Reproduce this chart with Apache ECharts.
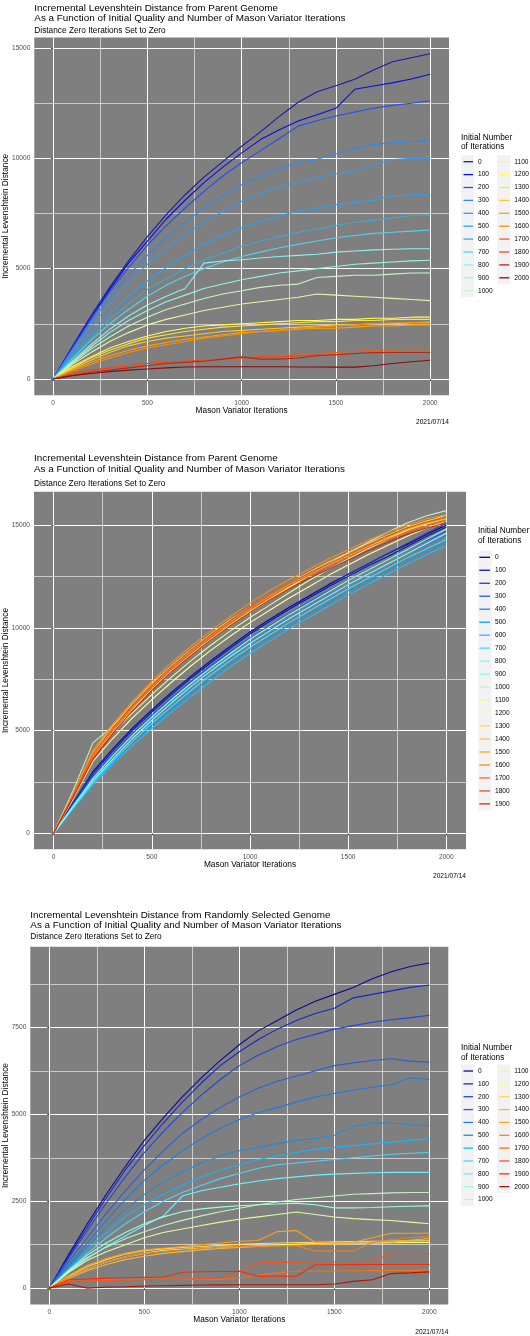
<!DOCTYPE html>
<html><head><meta charset="utf-8">
<script src="https://cdn.jsdelivr.net/npm/echarts@6/dist/echarts.min.js"></script>
<style>html,body{margin:0;padding:0;background:#fff}#c{width:530px;height:1336px}</style>
</head><body><div id="c"></div>
<script>
// ---------- shared axis data ----------
const iterations = [0,100,200,300,400,500,600,700,800,900,1000,1100,1200,1300,1400,1500,1600,1700,1800,1900,2000];
const xTicks = [0,500,1000,1500,2000];
const xMinor = [250,750,1250,1750];
const yTicksAB = [0,5000,10000,15000];
const yMinorAB = [2500,7500,12500];
const yTicksC = [0,2500,5000,7500];
const yMinorC = [1250,3750,6250,8750];

// ---------- panel A: distance from parent genome ----------
const levelsA = ['0','100','200','300','400','500','600','700','800','900','1000','1100','1200','1300','1400','1500','1600','1700','1800','1900','2000'];
const colorsA = ['#1919A8','#0A0AEB','#1E50F5','#3088F5','#3C96F0','#1EA5FF','#3CAAD2','#50D2F0','#8CF2F2','#96F5DC','#C8F5C8','#E2F8A6','#FFFF46','#FFDC50','#FFC828','#FFA000','#FF8C00','#E6641E','#F04614','#B4281E','#8B0A0A'];
const A0    = [0,1450,2850,4150,5350,6450,7450,8350,9150,9850,10550,11200,11900,12540,13020,13290,13590,14000,14380,14560,14740];
const A100  = [0,1400,2750,4050,5250,6250,7250,8100,8900,9600,10250,10850,11300,11690,11980,12270,13130,13280,13420,13600,13810];
const A200  = [0,1380,2700,3950,5050,6050,6950,7750,8500,9200,9800,10350,10900,11460,11700,11920,12100,12270,12400,12500,12610];
const A300  = [0,1300,2550,3700,4700,5600,6400,7100,7750,8300,8800,9200,9550,9800,9955,10195,10450,10635,10700,10760,10830];
const A400  = [0,1200,2350,3400,4350,5200,5900,6550,7100,7600,8050,8400,8700,8950,9150,9300,9400,9700,9950,10000,10000];
const A500  = [0,1050,2050,2950,3750,4450,5050,5600,6100,6500,6850,7150,7400,7600,7750,7900,8000,8100,8300,8350,8350];
const A600  = [0,950,1850,2700,3400,4050,4550,5000,5400,5700,6000,6250,6450,6650,6800,6950,7100,7200,7300,7400,7450];
const A700  = [0,900,1750,2500,3150,3750,4250,4650,5000,5300,5550,5750,5950,6100,6250,6400,6500,6600,6650,6700,6750];
const A800  = [0,800,1550,2250,2850,3350,3750,4100,5250,5350,5400,5480,5550,5600,5650,5750,5800,5850,5880,5900,5900];
const A900  = [0,750,1450,2100,2650,3100,3500,3800,4100,4300,4500,4650,4800,4900,5000,5100,5200,5250,5300,5350,5380];
const A1000 = [0,700,1350,1900,2400,2800,3150,3400,3650,3850,4000,4150,4250,4300,4600,4650,4700,4700,4750,4800,4800];
const A1100 = [0,650,1200,1700,2100,2450,2700,2900,3100,3250,3400,3500,3600,3700,3850,3800,3750,3700,3650,3600,3550];
const A1200 = [0,550,1000,1400,1700,1950,2150,2300,2400,2450,2500,2550,2600,2650,2650,2700,2700,2750,2750,2800,2800];
const A1300 = [0,500,950,1300,1600,1850,2000,2150,2250,2350,2400,2450,2500,2550,2600,2600,2650,2650,2700,2700,2700];
const A1400 = [0,450,850,1200,1500,1700,1850,1950,2050,2150,2200,2250,2300,2350,2400,2450,2450,2500,2500,2550,2550];
const A1500 = [0,400,750,1050,1300,1500,1650,1800,1900,2000,2100,2150,2200,2250,2300,2300,2350,2400,2400,2450,2450];
const A1600 = [0,350,650,950,1200,1400,1550,1700,1850,1950,2050,2150,2200,2300,2350,2400,2450,2500,2550,2550,2600];
const A1700 = [0,200,350,500,600,700,750,800,850,900,950,1000,1050,1100,1150,1200,1250,1300,1300,1350,1350];
const A1800 = [0,250,400,500,600,700,750,800,850,900,950,1000,1000,1050,1100,1100,1150,1150,1200,1200,1200];
const A1900 = [0,150,300,400,500,600,700,750,800,900,1000,900,900,950,1050,1100,1150,1200,1200,1200,1200];
const A2000 = [0,150,250,330,400,450,500,540,550,550,550,550,550,540,540,535,535,600,700,780,850];
const seriesA = [A0,A100,A200,A300,A400,A500,A600,A700,A800,A900,A1000,A1100,A1200,A1300,A1400,A1500,A1600,A1700,A1800,A1900,A2000];

// ---------- panel B: distance from parent genome (second set) ----------
const levelsB = ['0','100','200','300','400','500','600','700','800','900','1000','1100','1200','1300','1400','1500','1600','1700','1800','1900'];
const colorsB = ['#000080','#0A14B4','#1E3CC8','#1E5AE6','#1E82FF','#00A0FF','#1EBEFF','#3CDCFF','#7DFAFF','#82FFE1','#BEF5BE','#DCFF96','#FFFFA0','#FFDC46','#FFC350','#FFAA00','#FF8C14','#FF6414','#E6501E','#D22814'];
const B0    = [0,1500,3000,4100,5100,6000,6850,7650,8400,9100,9800,10400,11000,11550,12100,12600,13100,13600,14050,14550,15000];
const B100  = [0,1450,2900,4000,5000,5900,6750,7550,8300,9000,9700,10300,10900,11450,12000,12500,13000,13450,13950,14450,14900];
const B200  = [0,1500,2950,4050,5050,5950,6800,7600,8350,9050,9750,10350,10950,11500,12050,12600,13100,13600,14100,14600,15100];
const B300  = [0,1400,2800,3850,4850,5750,6600,7400,8150,8850,9500,10100,10700,11250,11800,12300,12800,13300,13800,14250,14700];
const B400  = [0,1350,2650,3700,4650,5550,6400,7200,7950,8650,9300,9900,10500,11050,11600,12100,12600,13100,13600,14050,14500];
const B500  = [0,1250,2450,3450,4400,5250,6050,6850,7600,8300,8950,9550,10150,10700,11250,11800,12300,12800,13300,13750,14200];
const B600  = [0,1200,2350,3350,4250,5100,5900,6650,7400,8100,8750,9350,9950,10500,11050,11600,12100,12600,13100,13550,14000];
const B700  = [0,1250,2450,3500,4450,5350,6150,6950,7700,8400,9050,9650,10250,10800,11350,11900,12400,12900,13400,13850,14300];
const B800  = [0,1300,2550,3600,4600,5500,6350,7150,7900,8600,9250,9850,10450,11000,11550,12100,12600,13100,13600,14100,14600];
const B900  = [0,1350,2650,3750,4750,5650,6500,7300,8050,8750,9450,10050,10650,11200,11750,12300,12800,13300,13800,14300,14800];
const B1000 = [0,2100,4400,5200,6100,7000,7850,8650,9400,10100,10750,11350,11950,12550,13100,13650,14150,14650,15100,15450,15700];
const B1100 = [0,1900,3900,4900,5850,6750,7600,8400,9150,9850,10500,11100,11700,12300,12850,13350,13850,14300,14750,15150,15500];
const B1200 = [0,1700,3500,4600,5600,6500,7350,8150,8900,9600,10250,10850,11450,12000,12550,13050,13550,14000,14450,14850,15200];
const B1300 = [0,1800,3700,4900,6000,7000,7900,8700,9450,10150,10800,11400,12000,12550,13050,13500,13950,14350,14750,15050,15300];
const B1400 = [0,1900,3900,5200,6300,7300,8150,8950,9700,10400,11000,11600,12150,12700,13200,13650,14100,14500,14900,15200,15400];
const B1500 = [0,1850,3800,5050,6150,7150,8050,8850,9600,10300,10950,11550,12100,12600,13100,13550,14000,14400,14800,15100,15300];
const B1600 = [0,1950,4050,5300,6400,7400,8300,9100,9850,10550,11200,11800,12350,12850,13350,13800,14250,14650,15000,15300,15500];
const B1700 = [0,1800,3700,5000,6100,7100,8000,8800,9550,10250,10900,11500,12050,12550,13000,13450,13900,14300,14650,14950,15200];
const B1800 = [0,1850,3850,5100,6200,7200,8100,8900,9650,10350,11000,11600,12150,12650,13100,13550,14000,14450,14850,15150,15400];
const B1900 = [0,1750,3600,4850,5950,6950,7850,8650,9400,10100,10750,11350,11900,12400,12850,13300,13750,14150,14550,14850,15100];
const seriesB = [B0,B100,B200,B300,B400,B500,B600,B700,B800,B900,B1000,B1100,B1200,B1300,B1400,B1500,B1600,B1700,B1800,B1900];

// ---------- panel C: distance from randomly selected genome ----------
const levelsC = levelsA;
const colorsC = ['#0A0A96','#1428C8','#1E46DC','#2860DC','#1E7AE6','#1E8CDC','#14B4FF','#50D2FF','#6EF0FF','#96FFDC','#BEF5BE','#DCFF9C','#FFFF6E','#FFD750','#F5B43C','#FFA014','#E68228','#FF6E0A','#FF5014','#FF2800','#B41400'];
const C0    = [0,950,1850,2700,3500,4250,4900,5500,6050,6550,7000,7400,7700,8000,8250,8450,8650,8900,9100,9250,9353];
const C100  = [0,900,1750,2600,3400,4100,4750,5350,5900,6400,6800,7150,7450,7700,7900,8050,8350,8450,8550,8650,8720];
const C200  = [0,850,1650,2450,3200,3900,4500,5050,5550,6000,6400,6700,6950,7150,7300,7450,7550,7650,7720,7780,7850];
const C300  = [0,750,1450,2150,2800,3400,3950,4450,4850,5200,5500,5750,5950,6100,6250,6400,6480,6550,6600,6530,6500];
const C400  = [0,650,1300,1950,2550,3100,3550,3950,4300,4600,4850,5050,5200,5350,5500,5600,5700,5780,5850,6050,6000];
const C500  = [0,600,1200,1750,2250,2700,3050,3350,3600,3800,3950,4050,4150,4250,4300,4400,4650,4750,4750,4700,4680];
const C600  = [0,550,1100,1600,2050,2400,2700,2950,3200,3400,3550,3700,3800,3900,4000,4050,4100,4150,4200,4250,4300];
const C700  = [0,500,1000,1450,1850,2200,2500,2750,2950,3150,3300,3450,3550,3600,3650,3700,3750,3800,3850,3880,3900];
const C800  = [0,450,850,1200,1500,1800,2075,2650,2800,2900,3000,3080,3150,3200,3250,3280,3300,3320,3330,3330,3330];
const C900  = [0,500,950,1300,1600,1850,2050,2200,2280,2330,2370,2400,2420,2445,2400,2308,2310,2320,2340,2355,2367];
const C1000 = [0,480,880,1180,1420,1620,1800,1950,2080,2200,2300,2400,2480,2550,2600,2650,2700,2720,2740,2750,2750];
const C1100 = [0,450,800,1050,1250,1450,1600,1700,1800,1900,1980,2050,2120,2192,2120,2045,2000,1970,1948,1900,1851];
const C1200 = [0,300,550,750,900,1000,1080,1120,1150,1180,1200,1220,1240,1260,1280,1290,1300,1300,1310,1315,1315];
const C1300 = [0,330,620,820,980,1080,1130,1170,1200,1230,1260,1280,1300,1310,1320,1330,1340,1350,1355,1360,1364];
const C1400 = [0,280,500,680,820,920,1000,1050,1100,1140,1170,1200,1220,1240,1260,1270,1280,1300,1310,1380,1430];
const C1500 = [0,350,650,850,1000,1100,1150,1200,1250,1300,1350,1370,1627,1656,1315,1300,1320,1450,1578,1578,1578];
const C1600 = [0,300,550,750,900,1000,1060,1100,1140,1180,1200,1210,1220,1217,1071,1071,1071,1315,1400,1450,1490];
const C1700 = [0,220,240,250,255,263,260,255,250,250,300,380,440,487,490,495,500,505,510,512,516];
const C1800 = [0,195,210,220,235,243,255,265,275,290,487,730,740,750,755,760,770,779,993,993,993];
const C1900 = [0,243,260,290,300,310,320,458,470,480,487,341,341,341,672,675,678,680,680,682,682];
const C2000 = [0,120,0,30,40,60,70,80,90,95,100,100,100,100,100,120,195,243,419,440,467];
const seriesC = [C0,C100,C200,C300,C400,C500,C600,C700,C800,C900,C1000,C1100,C1200,C1300,C1400,C1500,C1600,C1700,C1800,C1900,C2000];

// ---------- build chart ----------
const FONT = '"Liberation Sans", Arial, sans-serif';
const grids = [
  {left:34.3, top:37.5, width:414.7, height:357.7, yMin:-737, yMax:15478, yT:yTicksAB, yM:yMinorAB, yGap:24.3},
  {left:34.0, top:491.7, width:432.0, height:357.6, yMin:-778, yMax:16620, yT:yTicksAB, yM:yMinorAB, yGap:24.0},
  {left:30.3, top:946.7, width:418.0, height:357.8, yMin:-470, yMax:9821, yT:yTicksC, yM:yMinorC, yGap:20.3}
];
const fmt = v => String(v);
const gridOpt = [], xAxes = [], yAxes = [];
grids.forEach((g, gi) => {
  gridOpt.push({left:g.left, top:g.top, width:g.width, height:g.height, show:true, backgroundColor:'#7F7F7F', borderWidth:0, containLabel:false, outerBoundsMode:'none'});
  xAxes.push({type:'value', gridIndex:gi, min:-100, max:2100, position:'bottom',
    axisLine:{show:false},
    axisTick:{show:true, length:2.2, lineStyle:{color:'#333', width:0.8}, customValues:xTicks},
    axisLabel:{customValues:xTicks, fontSize:6.6, color:'#4D4D4D', margin:4, formatter:fmt, fontFamily:FONT},
    splitLine:{show:true, lineStyle:{color:'#FFFFFF', width:1}},
    name:'Mason Variator Iterations', nameLocation:'middle', nameGap:11, nameMoveOverlap:false,
    nameTextStyle:{fontSize:8.3, color:'#000', lineHeight:9, fontFamily:FONT}});
  xAxes.push({type:'value', gridIndex:gi, min:-100, max:2100, position:'top',
    axisLine:{show:false}, axisTick:{show:false, customValues:xMinor}, axisLabel:{show:false, customValues:xMinor},
    splitLine:{show:true, lineStyle:{color:'#FFFFFF', width:0.6}}});
  yAxes.push({type:'value', gridIndex:gi, min:g.yMin, max:g.yMax, position:'left',
    axisLine:{show:false},
    axisTick:{show:true, length:2.2, lineStyle:{color:'#333', width:0.8}, customValues:g.yT},
    axisLabel:{customValues:g.yT, fontSize:6.6, color:'#4D4D4D', margin:4, formatter:fmt, fontFamily:FONT},
    splitLine:{show:true, lineStyle:{color:'#FFFFFF', width:1}},
    name:'Incremental Levenshtein Distance', nameLocation:'middle', nameGap:g.yGap, nameMoveOverlap:false,
    nameTextStyle:{fontSize:8.3, color:'#000', lineHeight:9, fontFamily:FONT}});
  yAxes.push({type:'value', gridIndex:gi, min:g.yMin, max:g.yMax, position:'right',
    axisLine:{show:false}, axisTick:{show:false, customValues:g.yM}, axisLabel:{show:false, customValues:g.yM},
    splitLine:{show:true, lineStyle:{color:'#FFFFFF', width:0.6}}});
});

function mk(prefix, levels, colors, arrs, gi) {
  return levels.map((lv, i) => ({
    type:'line', name:prefix + '_' + lv, xAxisIndex:2*gi, yAxisIndex:2*gi,
    data:iterations.map((x, j) => [x, arrs[i][j]]),
    symbol:'none', showSymbol:false, color:colors[i],
    lineStyle:{width:1.1, color:colors[i]}, itemStyle:{color:colors[i]},
    animation:false, silent:true, z:3
  }));
}
const series = [].concat(mk('A', levelsA, colorsA, seriesA, 0), mk('B', levelsB, colorsB, seriesB, 1), mk('C', levelsC, colorsC, seriesC, 2));

function legend(prefix, names, left, top, itemWidth, lh) {
  return {orient:'vertical', left:left, top:top, padding:0, itemGap:0, icon:'rect', itemWidth:itemWidth, itemHeight:1.3,
    selectedMode:false, data:names.map(n => prefix + '_' + n),
    formatter:n => n.split('_')[1],
    textStyle:{fontSize:6.6, color:'#000', lineHeight:lh, fontFamily:FONT}};
}
const legends = [
  legend('A', levelsA.slice(0, 11), 463.5, 155.25, 9.5, 12.9),
  legend('A', levelsA.slice(11), 499.3, 155.25, 10, 12.9),
  legend('B', levelsB, 479.3, 550.8, 10.7, 12.98),
  legend('C', levelsC.slice(0, 11), 463.5, 1064.6, 9.5, 12.85),
  legend('C', levelsC.slice(11), 499.3, 1064.6, 10, 12.85)
];

function t(text, left, top, size, lh, extra) {
  return Object.assign({text:text, left:left, top:top, padding:0, itemGap:0,
    textStyle:{fontSize:size, fontWeight:'normal', color:'#000', lineHeight:lh, fontFamily:FONT}}, extra || {});
}
const mainA = 'Incremental Levenshtein Distance from Parent Genome\nAs a Function of Initial Quality and Number of Mason Variator Iterations';
const mainC = 'Incremental Levenshtein Distance from Randomly Selected Genome\nAs a Function of Initial Quality and Number of Mason Variator Iterations';
const sub = 'Distance Zero Iterations Set to Zero';
const legTitle = 'Initial Number\nof Iterations';
const stamp = '2021/07/14';
const titles = [
  t(mainA, 34.3, 3.0, 9.9, 10.4), t(sub, 34.3, 26.0, 8.3, 9),
  t(mainA, 34.0, 453.5, 9.9, 10.4), t(sub, 34.0, 478.8, 8.3, 9),
  t(mainC, 30.3, 909.8, 9.9, 10.4), t(sub, 30.3, 932.5, 8.3, 9),
  t(legTitle, 461, 132.75, 8.3, 9.5), t(legTitle, 478, 526.25, 8.3, 9.5), t(legTitle, 461, 1043.25, 8.3, 9.5),
  {text:stamp, right:81, top:419.1, padding:0, textStyle:{fontSize:6.6, fontWeight:'normal', color:'#000', lineHeight:7, fontFamily:FONT}},
  {text:stamp, right:64, top:872.5, padding:0, textStyle:{fontSize:6.6, fontWeight:'normal', color:'#000', lineHeight:7, fontFamily:FONT}},
  {text:stamp, right:81.7, top:1328.5, padding:0, textStyle:{fontSize:6.6, fontWeight:'normal', color:'#000', lineHeight:7, fontFamily:FONT}}
];

const keyBg = (x, y, w, h) => ({type:'rect', shape:{x:x, y:y, width:w, height:h}, style:{fill:'#F2F2F2'}, silent:true, z:0});
const graphics = [
  keyBg(461, 155.25, 13, 11*12.9), keyBg(497, 155.25, 13.5, 10*12.9),
  keyBg(478.3, 550.8, 13.4, 20*12.98),
  keyBg(461, 1064.6, 13, 11*12.85), keyBg(497, 1064.6, 13.5, 10*12.85)
];

const chart = echarts.init(document.getElementById('c'), null, {renderer:'canvas'});
chart.setOption({
  animation:false, backgroundColor:'#FFFFFF', textStyle:{fontFamily:FONT},
  title:titles, grid:gridOpt, xAxis:xAxes, yAxis:yAxes, legend:legends,
  graphic:{elements:graphics}, series:series
});
</script></body></html>
